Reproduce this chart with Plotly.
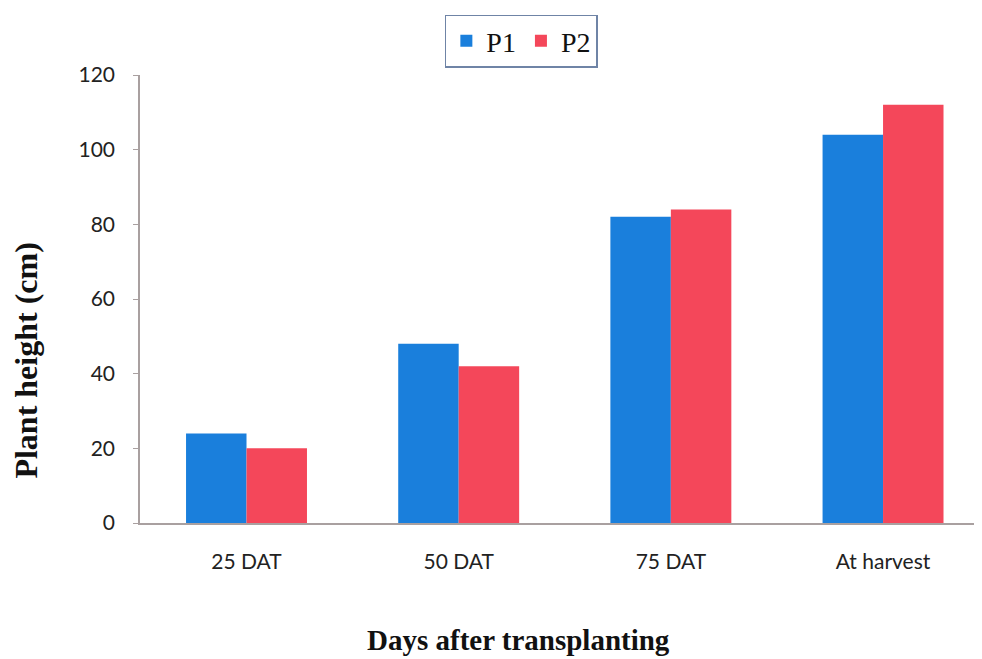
import plotly.graph_objects as go

categories = ["25 DAT", "50 DAT", "75 DAT", "At harvest"]
p1_values = [24, 48, 82, 104]
p2_values = [20, 42, 84, 112]
y_ticks = [0, 20, 40, 60, 80, 100, 120]

BLUE = "#1a7fdc"
RED = "#f4475a"
SERIF = "Liberation Serif, Times New Roman, serif"
SANS = "Lato, Open Sans, sans-serif"

fig = go.Figure()
fig.add_trace(go.Bar(name="P1", x=categories, y=p1_values, marker=dict(color=BLUE, line=dict(width=0))))
fig.add_trace(go.Bar(name="P2", x=categories, y=p2_values, marker=dict(color=RED, line=dict(width=0))))

# page body has an 8px margin, so the figure is shrunk and margins shifted by 8px
fig.update_layout(
    width=974, height=651,
    margin=dict(l=132, r=2, t=67, b=136),
    paper_bgcolor="white", plot_bgcolor="white",
    barmode="group", bargap=0.43, bargroupgap=0,
    showlegend=True,
    legend=dict(
        orientation="h", x=0.454, xanchor="center", y=1.135, yanchor="top",
        font=dict(family=SERIF, size=28, color="#111"),
        bordercolor="#6f84a6", borderwidth=1.5, bgcolor="white",
        itemwidth=30, tracegroupgap=0,
    ),
    xaxis=dict(
        range=[-0.502, 3.457], showgrid=False, showline=True, linecolor="#a9a0a0", linewidth=1.5,
        ticks="", tickfont=dict(family=SANS, size=21, color="#222"),
        ticklabelstandoff=19,
    ),
    yaxis=dict(
        range=[0, 120], tickvals=y_ticks, showgrid=False, zeroline=False,
        showline=True, linecolor="#a9a0a0", linewidth=1.5,
        ticks="outside", ticklen=5, tickcolor="#a9a0a0",
        tickfont=dict(family=SANS, size=21, color="#222"),
        ticklabelstandoff=14,
    ),
    annotations=[
        dict(text="<b>Plant height (cm)</b>", xref="paper", yref="paper",
             x=-0.136, y=0.362, xanchor="center", yanchor="middle",
             textangle=-90, showarrow=False,
             font=dict(family=SERIF, size=32, color="#111")),
        dict(text="<b>Days after transplanting</b>", xref="paper", yref="paper",
             x=0.45, y=-0.261, xanchor="center", yanchor="middle", showarrow=False,
             font=dict(family=SERIF, size=29, color="#111")),
    ],
)

fig.write_html("out.html")
